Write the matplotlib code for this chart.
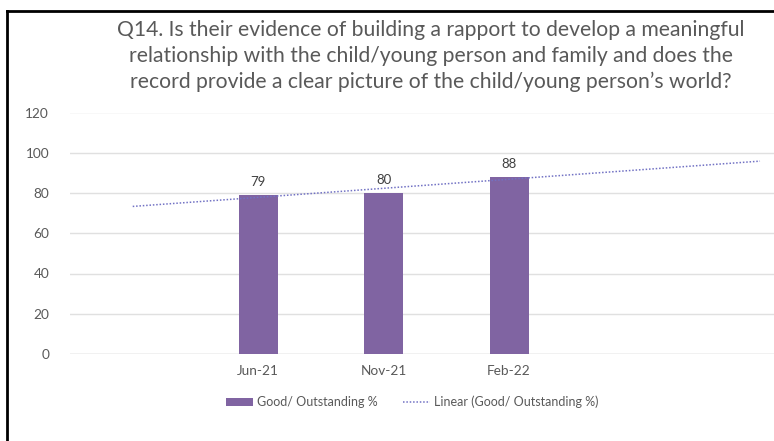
import matplotlib
matplotlib.use("Agg")
import matplotlib.pyplot as plt
import numpy as np
from matplotlib.lines import Line2D
from matplotlib.patches import Patch

categories = ["Jun-21", "Nov-21", "Feb-22"]
values = [79, 80, 88]
series_name = "Good/ Outstanding %"
trend_name = "Linear (Good/ Outstanding %)"
title_lines = ["Q14. Is their evidence of building a rapport to develop a meaningful",
               "relationship with the child/young person and family and does the",
               "record provide a clear picture of the child/young person\u2019s world?"]
yticks = [0, 20, 40, 60, 80, 100, 120]

plt.rcParams['font.family'] = ['Lato', 'DejaVu Sans']
W, H = 774, 441
fig = plt.figure(figsize=(W / 100, H / 100), dpi=100)
fig.patch.set_facecolor('white')

ax = fig.add_axes([70 / W, 1 - 354 / H, 1 - 70 / W, (354 - 112.5) / H])

x = np.arange(len(categories))
bar_color = '#8064A2'
ax.bar(x, values, width=0.31, color=bar_color, zorder=3)
for xi, v in zip(x, values):
    ax.annotate(f"{v}", (xi, v), xytext=(0, 5), textcoords='offset points',
                ha='center', va='bottom', fontsize=9.5, color='#404040')

# linear trendline (Excel: backward 1 period, forward 2 periods)
xs = x + 1
slope, intercept = np.polyfit(xs, values, 1)
tx = np.array([0, 5])
ty = slope * tx + intercept
ax.plot(tx - 1, ty, linestyle=(0, (1, 1.2)), color='#7272c4', linewidth=1.1, zorder=4)

ax.set_xlim(-1.5, (W - 132.5) / 125.5 - 1)
ax.set_ylim(0, 120)
ax.set_yticks(yticks)
ax.set_xticks(x)
ax.set_xticklabels(categories)
ax.yaxis.grid(True, color='#e0e0e0', linewidth=1, zorder=0)
for s in ax.spines.values():
    s.set_visible(False)
ax.tick_params(axis='both', length=0, labelsize=9.8, colors='#595959', pad=8)
ax.tick_params(axis='y', pad=15)
ax.axhline(0, color='#d9d9d9', linewidth=1, zorder=2)

for i, line in enumerate(title_lines):
    fig.text(431 / W, 1 - (36 + 26 * i) / H, line, ha='center', va='baseline',
             fontsize=15.2, color='#595959')

handles = [Patch(facecolor=bar_color, edgecolor='none'),
           Line2D([0], [0], linestyle=(0, (1, 1.2)), color='#7272c4', linewidth=1.1)]
fig.legend(handles, [series_name, trend_name], loc='center',
           bbox_to_anchor=(412 / W, 1 - 402 / H), ncol=2, frameon=False,
           fontsize=9, labelcolor='#595959', handlelength=2.2, handletextpad=0.3,
           columnspacing=2.0)

# partial frame lines (left and top)
fig.add_artist(Line2D([7 / W, 7 / W], [0, 1 - 11 / H], transform=fig.transFigure,
                      color='black', linewidth=2))
fig.add_artist(Line2D([7 / W, 1], [1 - 11 / H, 1 - 11 / H], transform=fig.transFigure,
                      color='black', linewidth=2))

fig.savefig("out.png", dpi=100)
